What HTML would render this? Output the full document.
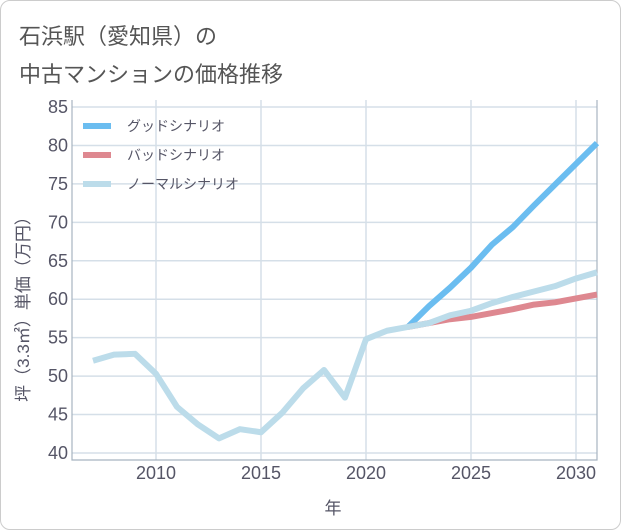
<!DOCTYPE html>
<html><head><meta charset="utf-8"><style>
body{margin:0;background:#fff;font-family:"Liberation Sans","Noto Sans CJK JP",sans-serif;}
#wrap{position:relative;width:619px;height:528px;border:1px solid #ccc;border-radius:10px;overflow:hidden;background:#fff}
.title{position:absolute;left:18px;font-size:22px;color:#555;}
</style></head><body>
<div id="wrap">
<div class="title" style="top:18px">石浜駅（愛知県）の</div>
<div class="title" style="top:56px">中古マンションの価格推移</div>
<svg id="chart" width="621" height="530" style="position:absolute;left:-1px;top:-1px"></svg>
</div>
<script>
const years=[2007,2008,2009,2010,2011,2012,2013,2014,2015,2016,2017,2018,2019,2020,2021,2022,2023,2024,2025,2026,2027,2028,2029,2030,2031];
const normal=[52,52.8,52.9,50.3,46,43.7,41.9,43.1,42.7,45.2,48.4,50.8,47.2,54.8,55.9,56.4,56.9,57.9,58.5,59.5,60.3,61,61.7,62.7,63.5];
const goodYears=[2022,2023,2024,2025,2026,2027,2028,2029,2030,2031];
const good=[56.4,59.1,61.5,64.1,67.1,69.4,72.2,74.9,77.6,80.3];
const badYears=[2022,2023,2024,2025,2026,2027,2028,2029,2030,2031];
const bad=[56.4,56.9,57.4,57.7,58.2,58.7,59.3,59.6,60.1,60.6];
const xTicks=[2010,2015,2020,2025,2030];
const yTicks=[40,45,50,55,60,65,70,75,80,85];
const NS="http://www.w3.org/2000/svg";
const svg=document.getElementById('chart');
const L=72,R=597,T=100,B=460;
const x=y=>156+(y-2010)*21;
const yv=v=>453-(v-40)*7.689;
function mk(t,a){const e=document.createElementNS(NS,t);for(const k in a)e.setAttribute(k,a[k]);svg.appendChild(e);return e;}
for(const t of yTicks){
 const g=mk('line',{x1:L,x2:R,y1:yv(t),y2:yv(t),stroke:'#d5dfe8','stroke-width':1.5});
 
 
 const tx=mk('text',{x:L-4,y:yv(t)+6,'text-anchor':'end','font-size':18,fill:'#556'});
 tx.textContent=t;
 
 
}
for(const t of xTicks){
 const g=mk('line',{x1:x(t),x2:x(t),y1:T,y2:B,stroke:'#d5dfe8','stroke-width':1.5});
 
 
 const tx=mk('text',{x:x(t),y:B+19,'text-anchor':'middle','font-size':18,fill:'#556'});
 tx.textContent=t;
 
 
}
const ax=mk('path',{d:`M${L} ${T}V${B}H${R}V${T}`,fill:'none',stroke:'#a8b4c0','stroke-width':1.2});


function line(xs,vs,col,name){
 const p=mk('polyline',{points:xs.map((yr,i)=>x(yr)+','+yv(vs[i])).join(' '),fill:'none',stroke:col,'stroke-width':6,'stroke-linejoin':'round'});
 
 
}
line(goodYears,good,'#6bbdf0','good-scenario-line');
line(badYears,bad,'#de8890','bad-scenario-line');
line(years,normal,'#bcdcea','normal-scenario-line');
const leg=[['グッドシナリオ','#6bbdf0'],['バッドシナリオ','#de8890'],['ノーマルシナリオ','#bcdcea']];
leg.forEach((d,i)=>{
 const yy=126+i*29;
 const s=mk('line',{x1:83,x2:111,y1:yy,y2:yy,stroke:d[1],'stroke-width':6});
 
 
 const t=mk('text',{x:127,y:yy+5,'font-size':14,fill:'#556'});
 t.textContent=d[0];
 
 
});
const xl=mk('text',{x:333,y:514,'text-anchor':'middle','font-size':17,fill:'#556'});
xl.textContent='年';


const yl=mk('text',{x:0,y:0,'text-anchor':'middle','font-size':17,fill:'#556',transform:'translate(29,305) rotate(-90)'});
yl.textContent='坪（3.3㎡）単価（万円）';


</script>
</body></html>
